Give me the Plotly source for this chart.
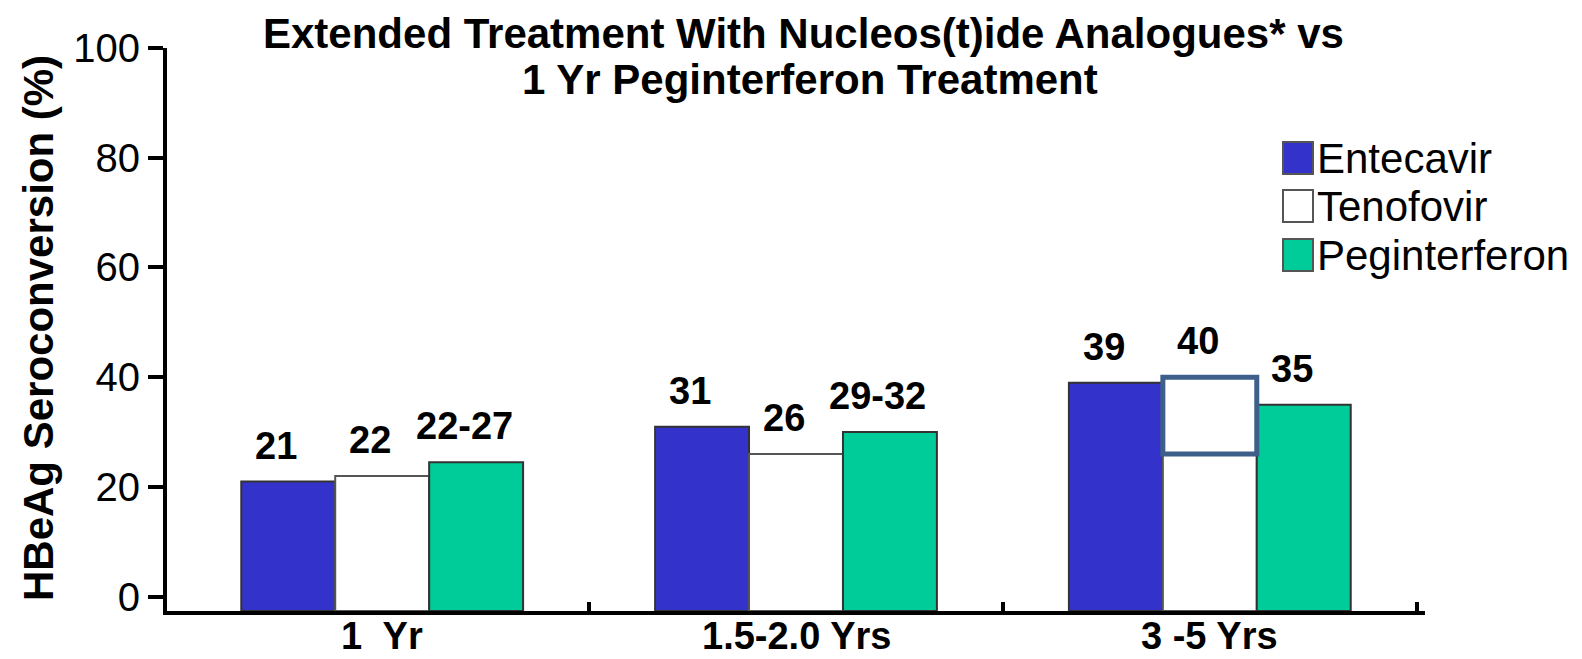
import plotly.graph_objects as go

# ---- data ----
categories = ["1\u00a0 Yr", "1.5-2.0 Yrs", "3 -5 Yrs"]
series_names = ["Entecavir", "Tenofovir", "Peginterferon"]

entecavir = [21, 31, 39]
tenofovir = [22, 26, 40]
peginterferon = [24.5, 30, 35]

entecavir_labels = ["21", "31", "39"]
tenofovir_labels = ["22", "26", "40"]
peginterferon_labels = ["22-27", "29-32", "35"]

y_ticks = [0, 20, 40, 60, 80, 100]

# ---- styling ----
FONT = "Liberation Sans, Arial, Helvetica, sans-serif"
BLUE = "#3333cc"
GREEN = "#00cc99"
WHITE = "#ffffff"
BOX = "#3d5f8a"
colors = [BLUE, WHITE, GREEN]

W, H = 1582, 659
L, R, T, B = 167, 157, 48, 48
PW, PH = W - L - R, H - T - B
Y_FLOOR = -2.6  # axis line sits a little below zero; bars rise from it


def px_x(px):
    return (px - L) / PW


def px_y(py):
    return (H - B - py) / PH


bw = 0.227
offsets = [-1.5 * bw, -0.5 * bw, 0.5 * bw]
x_idx = list(range(len(categories)))

fig = go.Figure()

# Tenofovir at 3-5 Yrs: white bar keeps the 1.5-2.0 Yr level, outlined box shows the rise
tenofovir_drawn = tenofovir[:2] + [tenofovir[1]]
series_vals = [entecavir, tenofovir_drawn, peginterferon]
outline = ["#333333", "#555555", "#333333"]

for name, vals, col, off, oc in zip(series_names, series_vals, colors, offsets, outline):
    fig.add_trace(go.Bar(
        x=x_idx, y=[v - Y_FLOOR for v in vals], base=Y_FLOOR, name=name,
        width=bw, offset=off,
        marker=dict(color=col, line=dict(color=oc, width=2)),
        showlegend=False, hoverinfo="skip",
    ))

fig.add_trace(go.Bar(
    x=[2], base=[tenofovir[1]], y=[tenofovir[2] - tenofovir[1]],
    width=bw, offset=offsets[1],
    marker=dict(color="rgba(0,0,0,0)", line=dict(color=BOX, width=5)),
    showlegend=False, hoverinfo="skip",
))

# value labels above bars
label_tops = [entecavir, tenofovir, peginterferon]
label_texts = [entecavir_labels, tenofovir_labels, peginterferon_labels]
for vals, texts, off in zip(label_tops, label_texts, offsets):
    for i, (v, t) in enumerate(zip(vals, texts)):
        fig.add_annotation(
            x=i + off + bw / 2, y=v, text=t, showarrow=False,
            xanchor="center", yanchor="middle", xshift=-12, yshift=36,
            font=dict(family=FONT, size=38, color="black", weight="bold"),
        )

# category labels under the axis
for i, cat in enumerate(categories):
    fig.add_annotation(
        x=i, y=px_y(636), xref="x", yref="paper", text=cat, showarrow=False,
        xanchor="center", yanchor="middle",
        font=dict(family=FONT, size=38, color="black", weight="bold"),
    )

# title (two lines)
fig.add_annotation(
    x=px_x(803), y=px_y(33), xref="paper", yref="paper", showarrow=False,
    text="Extended Treatment With Nucleos(t)ide Analogues* vs",
    xanchor="center", yanchor="middle",
    font=dict(family=FONT, size=42, color="black", weight="bold"),
)
fig.add_annotation(
    x=px_x(810), y=px_y(79), xref="paper", yref="paper", showarrow=False,
    text="1 Yr Peginterferon Treatment",
    xanchor="center", yanchor="middle",
    font=dict(family=FONT, size=42, color="black", weight="bold"),
)

# y-axis title
fig.add_annotation(
    x=px_x(38), y=px_y(328), xref="paper", yref="paper", showarrow=False,
    text="HBeAg Seroconversion (%)", textangle=-90,
    xanchor="center", yanchor="middle",
    font=dict(family=FONT, size=42, color="black", weight="bold"),
)

# legend
legend_y = [158, 206, 255]
for name, col, ly in zip(series_names, colors, legend_y):
    fig.add_shape(
        type="rect", xref="paper", yref="paper",
        x0=px_x(1283), x1=px_x(1313), y0=px_y(ly + 16), y1=px_y(ly - 16),
        fillcolor=col, line=dict(color="#555555", width=2),
    )
    fig.add_annotation(
        x=px_x(1315), y=px_y(ly), xref="paper", yref="paper", showarrow=False,
        text=name, xanchor="left", yanchor="middle",
        font=dict(family=FONT, size=42, color="black"),
    )

fig.update_layout(
    width=W, height=H,
    margin=dict(l=L, r=R, t=T, b=B, pad=0, autoexpand=False),
    paper_bgcolor="white", plot_bgcolor="white",
    barmode="overlay",
    showlegend=False,
    xaxis=dict(
        range=[-0.52, 2.52], automargin=False,
        tickmode="array", tickvals=x_idx, ticktext=["", "", ""],
        ticks="", showgrid=False, zeroline=False,
        showline=True, linecolor="black", linewidth=4,
        minor=dict(tickmode="array", tickvals=[0.5, 1.5, 2.5], ticks="inside",
                   ticklen=9, tickwidth=4, tickcolor="black", showgrid=False),
        fixedrange=True,
    ),
    yaxis=dict(
        range=[Y_FLOOR, 100], automargin=False,
        tickmode="array", tickvals=y_ticks,
        ticks="outside", ticklen=15, tickwidth=4, tickcolor="black",
        showgrid=False, zeroline=False,
        showline=True, linecolor="black", linewidth=4,
        tickfont=dict(family=FONT, size=40, color="black"),
        fixedrange=True,
    ),
)

fig.write_html("out.html")
